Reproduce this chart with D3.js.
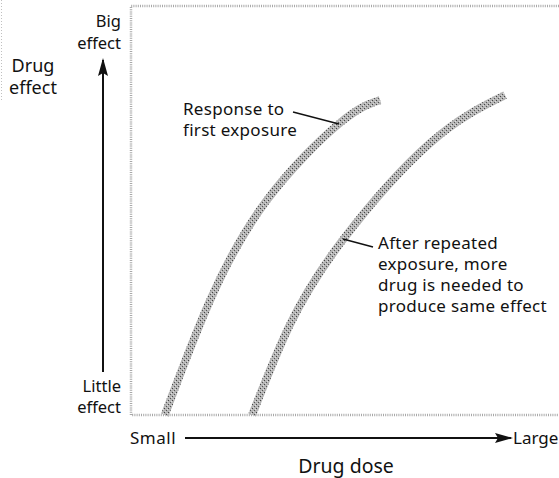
<!DOCTYPE html>
<html>
<head>
<meta charset="utf-8">
<script src="https://cdn.jsdelivr.net/npm/d3@7"></script>
<style>
  body { margin: 0; background: #fff; }
  svg text { font-family: "Noto Sans", "Open Sans", sans-serif; fill: #111; }
</style>
</head>
<body>
<svg class="js-chart"></svg>
<script>
// dose (0-100) vs effect (0-100)
var firstDose    = [7.9, 18.5, 31.8, 48.8, 58.2];
var firstEffect  = [0, 28.1, 52.6, 71.4, 77.0];
var repeatDose   = [28.3, 37.1, 49.5, 69.9, 87.4];
var repeatEffect = [0, 22.0, 42.8, 66.5, 78.2];

var yEndLabels = [["Big", "effect"], ["Little", "effect"]];
var xEndLabels = ["Small", "Large"];
var firstNote  = ["Response to", "first exposure"];
var repeatNote = ["After repeated", "exposure, more", "drug is needed to", "produce same effect"];

var chart = {
    width: 559,
    height: 478,
    margin: { top: 6, right: 0, bottom: 63, left: 131 },

    init: function () {
        this.el = d3.select(".js-chart")
            .attr("width", this.width)
            .attr("height", this.height);

        this.x = d3.scaleLinear().domain([0, 100])
            .range([this.margin.left, this.width - this.margin.right]);
        this.y = d3.scaleLinear().domain([0, 100])
            .range([this.height - this.margin.bottom, this.margin.top]);

        this.defs();
        this.drawFrame();
        this.drawCurves();
        this.drawAxes();
        this.drawNotes();
    },

    defs: function () {
        var d = this.el.append("defs");
        d.append("marker")
            .attr("id", "head")
            .attr("viewBox", "0 0 18 10")
            .attr("refX", 16).attr("refY", 5)
            .attr("markerUnits", "userSpaceOnUse")
            .attr("markerWidth", 18).attr("markerHeight", 10)
            .attr("orient", "auto")
          .append("path")
            .attr("d", "M0,0 L18,5 L0,10 L3,5 Z")
            .attr("fill", "#111");

        // stippled grey, like the printed screen
        var p = d.append("pattern")
            .attr("id", "stipple")
            .attr("patternUnits", "userSpaceOnUse")
            .attr("width", 4).attr("height", 4);
        p.append("rect").attr("width", 4).attr("height", 4).attr("fill", "#b4b4b4");
        p.append("rect").attr("x", 0).attr("y", 0).attr("width", 1).attr("height", 1).attr("fill", "#444");
        p.append("rect").attr("x", 2).attr("y", 2).attr("width", 1).attr("height", 1).attr("fill", "#555");
        p.append("rect").attr("x", 3).attr("y", 1).attr("width", 1).attr("height", 1).attr("fill", "#e0e0e0");
        p.append("rect").attr("x", 1).attr("y", 3).attr("width", 1).attr("height", 1).attr("fill", "#d8d8d8");
    },

    drawFrame: function () {
        var x0 = this.x(0), y0 = this.y(0), y1 = this.y(100);
        this.el.append("path")
            .attr("d", "M" + this.width + "," + y1 + " L" + x0 + "," + y1 +
                " L" + x0 + "," + y0 + " L" + this.width + "," + y0)
            .attr("fill", "none")
            .attr("stroke", "#a8a8a8")
            .attr("stroke-width", 2.5)
            .attr("stroke-dasharray", "1 1.2");

        // faint scan edge on the far left
        this.el.append("line")
            .attr("x1", 1.5).attr("x2", 1.5).attr("y1", 0).attr("y2", 102)
            .attr("stroke", "#c0c0c0")
            .attr("stroke-dasharray", "1 2");
    },

    drawCurves: function () {
        var self = this;
        var line = d3.line()
            .x(function (d) { return self.x(d[0]); })
            .y(function (d) { return self.y(d[1]); })
            .curve(d3.curveNatural);

        var series = [
            d3.zip(firstDose, firstEffect),
            d3.zip(repeatDose, repeatEffect)
        ];

        this.el.selectAll(".curve").data(series)
            .enter().append("path")
                .attr("class", "curve")
                .attr("d", line)
                .attr("fill", "none")
                .attr("stroke", "url(#stipple)")
                .attr("stroke-width", 8);
    },

    drawAxes: function () {
        // effect arrow
        this.el.append("line")
            .attr("x1", 103).attr("x2", 103)
            .attr("y1", 372).attr("y2", 60)
            .attr("stroke", "#111").attr("stroke-width", 2)
            .attr("marker-end", "url(#head)");

        // dose arrow
        this.el.append("line")
            .attr("x1", 185).attr("x2", 511)
            .attr("y1", 438).attr("y2", 438)
            .attr("stroke", "#111").attr("stroke-width", 2)
            .attr("marker-end", "url(#head)");

        var top = this.el.append("text").attr("text-anchor", "end").attr("font-size", 16.5);
        yEndLabels[0].forEach(function (t, i) {
            top.append("tspan").attr("x", 121).attr("y", 27 + i * 22).text(t);
        });
        var bot = this.el.append("text").attr("text-anchor", "end").attr("font-size", 16.5);
        yEndLabels[1].forEach(function (t, i) {
            bot.append("tspan").attr("x", 121).attr("y", 392 + i * 21).text(t);
        });

        var title = this.el.append("text").attr("text-anchor", "middle").attr("font-size", 18);
        ["Drug", "effect"].forEach(function (t, i) {
            title.append("tspan").attr("x", 33).attr("y", 72 + i * 22).text(t);
        });

        this.el.append("text").attr("x", 130).attr("y", 444)
            .attr("font-size", 17).attr("letter-spacing", 0.5).text(xEndLabels[0]);
        this.el.append("text").attr("x", 513).attr("y", 444)
            .attr("font-size", 17).text(xEndLabels[1]);

        this.el.append("text").attr("x", 346).attr("y", 473)
            .attr("text-anchor", "middle").attr("font-size", 19.5).text("Drug dose");
    },

    drawNotes: function () {
        var a = this.el.append("text").attr("font-size", 17).attr("letter-spacing", 0.3);
        firstNote.forEach(function (t, i) {
            a.append("tspan").attr("x", 183).attr("y", 115 + i * 21).text(t);
        });
        this.el.append("line")
            .attr("x1", 293).attr("y1", 112).attr("x2", 339).attr("y2", 124)
            .attr("stroke", "#111").attr("stroke-width", 1.3);

        var b = this.el.append("text").attr("font-size", 17).attr("letter-spacing", 0.3);
        repeatNote.forEach(function (t, i) {
            b.append("tspan").attr("x", 378).attr("y", 249 + i * 21).text(t);
        });
        this.el.append("line")
            .attr("x1", 343).attr("y1", 239).attr("x2", 373).attr("y2", 247)
            .attr("stroke", "#111").attr("stroke-width", 1.3);
    }
};

chart.init();
</script>
</body>
</html>
